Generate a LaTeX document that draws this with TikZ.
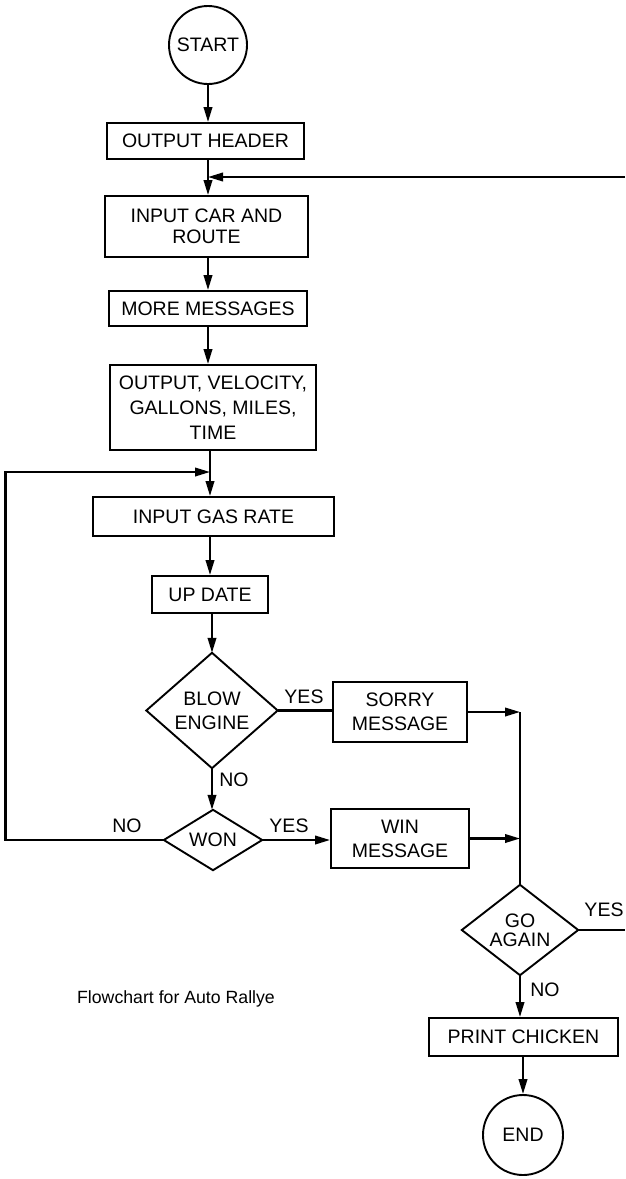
\documentclass[tikz,border=0pt]{standalone}
\usepackage{fontspec}
\setmainfont{Liberation Sans}
\usetikzlibrary{arrows.meta,calc}
\begin{document}
\begin{tikzpicture}[x=1pt,y=-1pt,
  every node/.style={font=\fontsize{19.5}{24}\selectfont},
  box/.style={draw, line width=1.9pt, rectangle, inner sep=0pt, align=center},
  dianode/.style={rectangle, inner sep=0pt, align=center},
  term/.style={draw, line width=1.9pt, circle, inner sep=0pt},
  conn/.style={line width=2.1pt},
  arr/.style={conn, -{Triangle[length=15pt,width=8.5pt]}},
  lbl/.style={inner sep=0pt}
]
\path[fill=white] (0,0) rectangle (625,1179);
\useasboundingbox (0,0) rectangle (625,1179);

% columns
\coordinate (c1) at (208,0);
\coordinate (c2) at (210,0);
\coordinate (cr) at (520,0);
\coordinate (loopR) at (625,177);
\coordinate (loopL) at (5.5,472);

% nodes
\node[term, minimum size=78pt] (start) at (208,45) {START};
\node[box, minimum width=197pt, minimum height=36pt] (header) at (205.5,141) {OUTPUT HEADER};
\node[box, minimum width=203pt, minimum height=61pt, font=\fontsize{19.5}{21.5}\selectfont] (car) at (206.5,226.5) {INPUT CAR AND\\ROUTE};
\node[box, minimum width=198pt, minimum height=35pt] (more) at (208,308.5) {MORE MESSAGES};
\node[box, minimum width=206pt, minimum height=85pt, font=\fontsize{19.5}{25}\selectfont] (outvel) at (213,407.5) {OUTPUT, VELOCITY,\\GALLONS, MILES,\\TIME};
\node[box, minimum width=241pt, minimum height=39pt] (gas) at (213.5,516.5) {INPUT GAS RATE};
\node[box, minimum width=116pt, minimum height=37pt] (update) at (210,594.5) {UP DATE};
\node[dianode, minimum width=131pt, minimum height=115pt] (blow) at (212,710.5) {BLOW\\ENGINE};
\node[box, minimum width=134pt, minimum height=60pt] (sorry) at (400,712) {SORRY\\MESSAGE};
\node[dianode, minimum width=98pt, minimum height=60pt] (won) at (213,840) {WON};
\node[box, minimum width=138pt, minimum height=59pt] (win) at (400,838.5) {WIN\\MESSAGE};
\node[dianode, minimum width=116pt, minimum height=90pt, font=\fontsize{19.5}{19}\selectfont] (again) at (520,930) {GO\\AGAIN};
\node[box, minimum width=189pt, minimum height=38pt] (print) at (523.5,1037) {PRINT CHICKEN};
\node[term, minimum size=80pt] (end) at (523,1135) {END};
\node[font=\fontsize{17.7}{20}\selectfont] (cap) at (176,999) {Flowchart for Auto Rallye};

% diamonds
\foreach \d in {blow,won,again}{
  \draw[line width=1.9pt, line join=miter] (\d.north) -- (\d.east) -- (\d.south) -- (\d.west) -- cycle;
}

% labels
\node[lbl] (yes1) at (304,697) {YES};
\node[lbl] (no1) at (234,780) {NO};
\node[lbl] (no2) at (127,826) {NO};
\node[lbl] (yes2) at (289,826) {YES};
\node[lbl] (yes3) at (604,910) {YES};
\node[lbl] (no3) at (545,990) {NO};

% connectors
\draw[arr] (start) -- (header.north -| c1);
\draw[arr] (header.south -| c1) -- (car.north -| c1);
\draw[arr] (loopR) -- (loopR -| c1);
\draw[arr] (car.south -| c1) -- (more.north -| c1);
\draw[arr] (more.south -| c1) -- (outvel.north -| c1);
\draw[arr] (outvel.south -| c2) -- (gas.north -| c2);
\draw[arr] (gas.south -| c2) -- (update.north -| c2);
\draw[arr] (update.south -| blow.north) -- (blow.north);
\draw[arr] (blow.south) -- (blow.south |- won.north);
\draw[conn] (blow.east) -- (sorry.west |- blow.east);
\draw[arr] (sorry.east) -- (sorry.east -| cr);
\draw[arr] (won.east) -- (win.west |- won.east);
\draw[arr] (win.east) -- (win.east -| cr);
\draw[arr] (won.west) -- (won.west -| loopL) -- (loopL) -- (loopL -| c2);
\draw[conn] (sorry.east -| cr) -- (again.north);
\draw[conn] (again.east) -- (again.east -| loopR);
\draw[arr] (again.south) -- (again.south |- print.north);
\draw[arr] (print.south -| end.north) -- (end.north);
\end{tikzpicture}
\end{document}
